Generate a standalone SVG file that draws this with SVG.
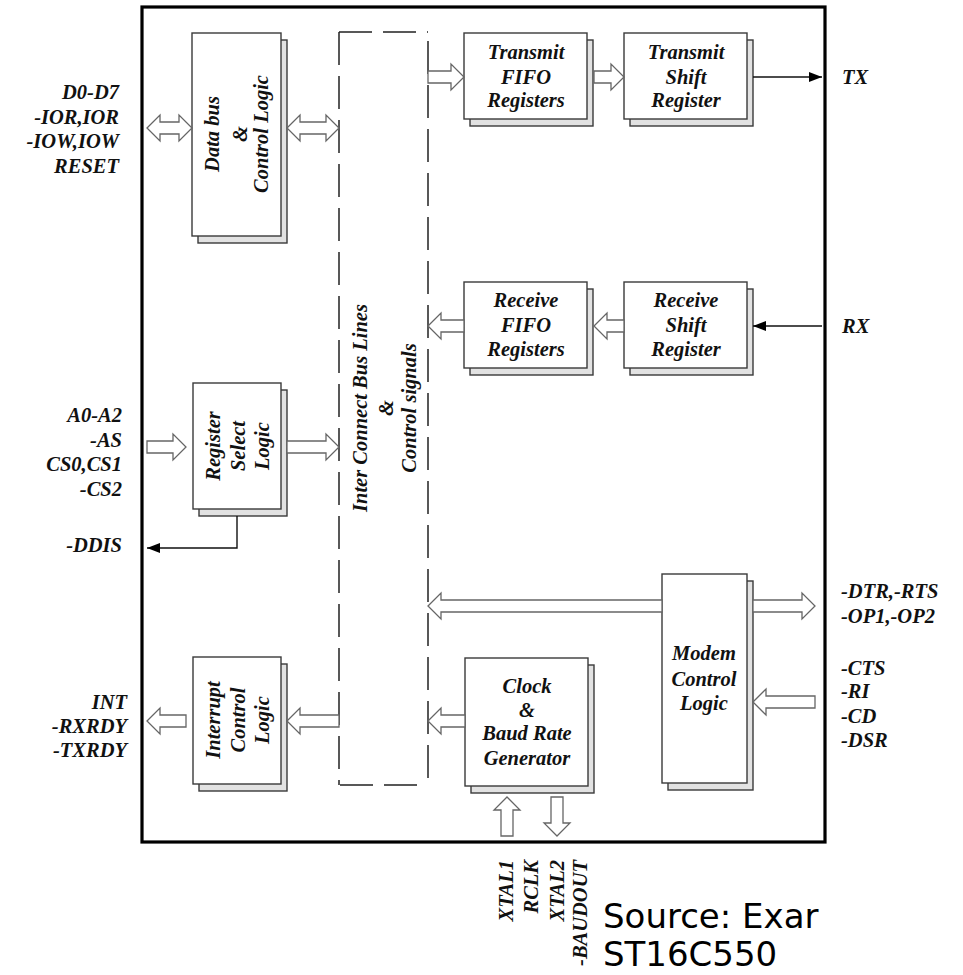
<svg xmlns="http://www.w3.org/2000/svg" width="963" height="975" viewBox="0 0 963 975">
<defs>
<style>
.t{font-family:"Liberation Serif","Times New Roman",serif;font-weight:bold;font-style:italic;font-size:20.5px;fill:#111}
.m{text-anchor:middle}
.e{text-anchor:end}
.box{fill:#fff;stroke:#3a3a3a;stroke-width:1.4}
.sh{fill:#e2e2e2;stroke:#3a3a3a;stroke-width:1.4}
.oa{fill:#fff;stroke:#666;stroke-width:1.3;stroke-linejoin:miter}
.ln{fill:none;stroke:#111;stroke-width:1.4}
.dl{fill:none;stroke:#222;stroke-width:1.5;stroke-dasharray:33 11}
.src{font-family:"DejaVu Sans",sans-serif;font-size:34px;fill:#000}
</style>
<marker id="ah" viewBox="0 0 13 10" refX="13" refY="5" markerWidth="13" markerHeight="10" markerUnits="userSpaceOnUse" orient="auto">
<path d="M0,0 L13,5 L0,10 z" fill="#000"/>
</marker>
</defs>
<rect width="963" height="975" fill="#fff"/>
<rect id="chip" x="142" y="7" width="683" height="835" fill="none" stroke="#000" stroke-width="3.2"/>

<g id="interconnect">
<line class="dl" x1="339" y1="32" x2="428" y2="32"/>
<line class="dl" x1="339" y1="32" x2="339" y2="785"/>
<line class="dl" x1="428" y1="41" x2="428" y2="785"/>
<line class="dl" x1="340" y1="785" x2="428" y2="785"/>
<g class="t m">
<text transform="translate(360,408) rotate(-90)" y="7">Inter Connect Bus Lines</text>
<text transform="translate(386,408) rotate(-90)" y="7">&amp;</text>
<text transform="translate(409,408) rotate(-90)" y="7">Control signals</text>
</g>
</g>

<g id="databus">
<rect class="sh" x="198" y="40" width="89" height="203"/>
<rect class="box" x="192" y="33" width="89" height="203"/>
<g class="t m">
<text transform="translate(212,134) rotate(-90)" y="7">Data bus</text>
<text transform="translate(240,134) rotate(-90)" y="7">&amp;</text>
<text transform="translate(261,134) rotate(-90)" y="7">Control Logic</text>
</g>
</g>

<g id="txfifo">
<rect class="sh" x="470" y="40" width="123" height="86"/>
<rect class="box" x="464" y="33" width="123" height="86"/>
<g class="t m">
<text x="526" y="59">Transmit</text>
<text x="526" y="84">FIFO</text>
<text x="526" y="107">Registers</text>
</g>
</g>

<g id="txshift">
<rect class="sh" x="630" y="40" width="123" height="86"/>
<rect class="box" x="624" y="33" width="123" height="86"/>
<g class="t m">
<text x="686" y="59">Transmit</text>
<text x="686" y="84">Shift</text>
<text x="686" y="107">Register</text>
</g>
</g>

<g id="rxfifo">
<rect class="sh" x="470" y="289" width="123" height="86"/>
<rect class="box" x="464" y="282" width="123" height="86"/>
<g class="t m">
<text x="526" y="307">Receive</text>
<text x="526" y="332">FIFO</text>
<text x="526" y="356">Registers</text>
</g>
</g>

<g id="rxshift">
<rect class="sh" x="630" y="289" width="123" height="86"/>
<rect class="box" x="624" y="282" width="123" height="86"/>
<g class="t m">
<text x="686" y="307">Receive</text>
<text x="686" y="332">Shift</text>
<text x="686" y="356">Register</text>
</g>
</g>

<g id="regsel">
<rect class="sh" x="199" y="390" width="88" height="126"/>
<rect class="box" x="193" y="383" width="88" height="126"/>
<g class="t m">
<text transform="translate(213,446) rotate(-90)" y="7">Register</text>
<text transform="translate(238,446) rotate(-90)" y="7">Select</text>
<text transform="translate(262,446) rotate(-90)" y="7">Logic</text>
</g>
</g>

<g id="interrupt">
<rect class="sh" x="199" y="664" width="88" height="127"/>
<rect class="box" x="193" y="657" width="88" height="127"/>
<g class="t m">
<text transform="translate(213,720) rotate(-90)" y="7">Interrupt</text>
<text transform="translate(238,720) rotate(-90)" y="7">Control</text>
<text transform="translate(262,720) rotate(-90)" y="7">Logic</text>
</g>
</g>

<g id="clock">
<rect class="sh" x="471" y="665" width="123" height="128"/>
<rect class="box" x="465" y="658" width="123" height="128"/>
<g class="t m">
<text x="527" y="693">Clock</text>
<text x="527" y="717">&amp;</text>
<text x="527" y="740">Baud Rate</text>
<text x="527" y="765">Generator</text>
</g>
</g>

<g id="modem">
<rect class="sh" x="668" y="581" width="85" height="209"/>
<rect class="box" x="662" y="574" width="85" height="209"/>
<g class="t m">
<text x="704" y="660">Modem</text>
<text x="704" y="686">Control</text>
<text x="704" y="710">Logic</text>
</g>
</g>

<g id="connectors">
<polygon class="oa" points="147,128 160,115 160,122 179,122 179,115 192,128 179,141 179,134 160,134 160,141"/>
<polygon class="oa" points="287,128 300,115 300,122 326,122 326,115 339,128 326,141 326,134 300,134 300,141"/>
<polygon class="oa" points="428,71 451,71 451,64 464,77 451,90 451,83 428,83"/>
<polygon class="oa" points="594,71 611,71 611,64 624,77 611,90 611,83 594,83"/>
<polygon class="oa" points="594,326 607,313 607,320 624,320 624,332 607,332 607,339"/>
<polygon class="oa" points="428,326 441,313 441,320 464,320 464,332 441,332 441,339"/>
<polygon class="oa" points="147,441 173,441 173,434 186,447 173,460 173,453 147,453"/>
<polygon class="oa" points="287,441 326,441 326,434 339,447 326,460 326,453 287,453"/>
<polygon class="oa" points="428,606 441,593 441,600 662,600 662,612 441,612 441,619"/>
<polygon class="oa" points="753,600 802,600 802,593 815,606 802,619 802,612 753,612"/>
<polygon class="oa" points="753,702 766,689 766,696 815,696 815,708 766,708 766,715"/>
<polygon class="oa" points="428,721 441,708 441,715 465,715 465,727 441,727 441,734"/>
<polygon class="oa" points="287,721 300,708 300,715 339,715 339,727 300,727 300,734"/>
<polygon class="oa" points="147,721 160,708 160,715 186,715 186,727 160,727 160,734"/>
<polygon class="oa" points="507,797 520,810 513,810 513,836 501,836 501,810 494,810"/>
<polygon class="oa" points="551,797 563,797 563,823 570,823 557,836 544,823 551,823"/>
<line class="ln" x1="753" y1="77" x2="822" y2="77" marker-end="url(#ah)"/>
<line class="ln" x1="822" y1="326" x2="753" y2="326" marker-end="url(#ah)"/>
<polyline class="ln" points="237,516 237,548 147,548" marker-end="url(#ah)"/>
</g>

<g id="labels" class="t">
<g class="e">
<text x="119" y="99">D0-D7</text>
<text x="119" y="124">-IOR,IOR</text>
<text x="119" y="148">-IOW,IOW</text>
<text x="119" y="173">RESET</text>
<text x="122" y="422">A0-A2</text>
<text x="122" y="447">-AS</text>
<text x="122" y="471">CS0,CS1</text>
<text x="122" y="496">-CS2</text>
<text x="122" y="552">-DDIS</text>
<text x="127" y="709">INT</text>
<text x="127" y="733">-RXRDY</text>
<text x="127" y="757">-TXRDY</text>
</g>
<text x="842" y="84">TX</text>
<text x="842" y="333">RX</text>
<text x="841" y="598">-DTR,-RTS</text>
<text x="841" y="623">-OP1,-OP2</text>
<text x="841" y="675">-CTS</text>
<text x="841" y="698">-RI</text>
<text x="841" y="723">-CD</text>
<text x="841" y="747">-DSR</text>
<g class="e">
<text transform="translate(506,860) rotate(-90)" y="7">XTAL1</text>
<text transform="translate(531,860) rotate(-90)" y="7">RCLK</text>
<text transform="translate(557,860) rotate(-90)" y="7">XTAL2</text>
<text transform="translate(580,860) rotate(-90)" y="7">-BAUDOUT</text>
</g>
</g>

<g id="source">
<text class="src" x="603" y="928">Source: Exar</text>
<text class="src" x="603" y="966">ST16C550</text>
</g>
</svg>
